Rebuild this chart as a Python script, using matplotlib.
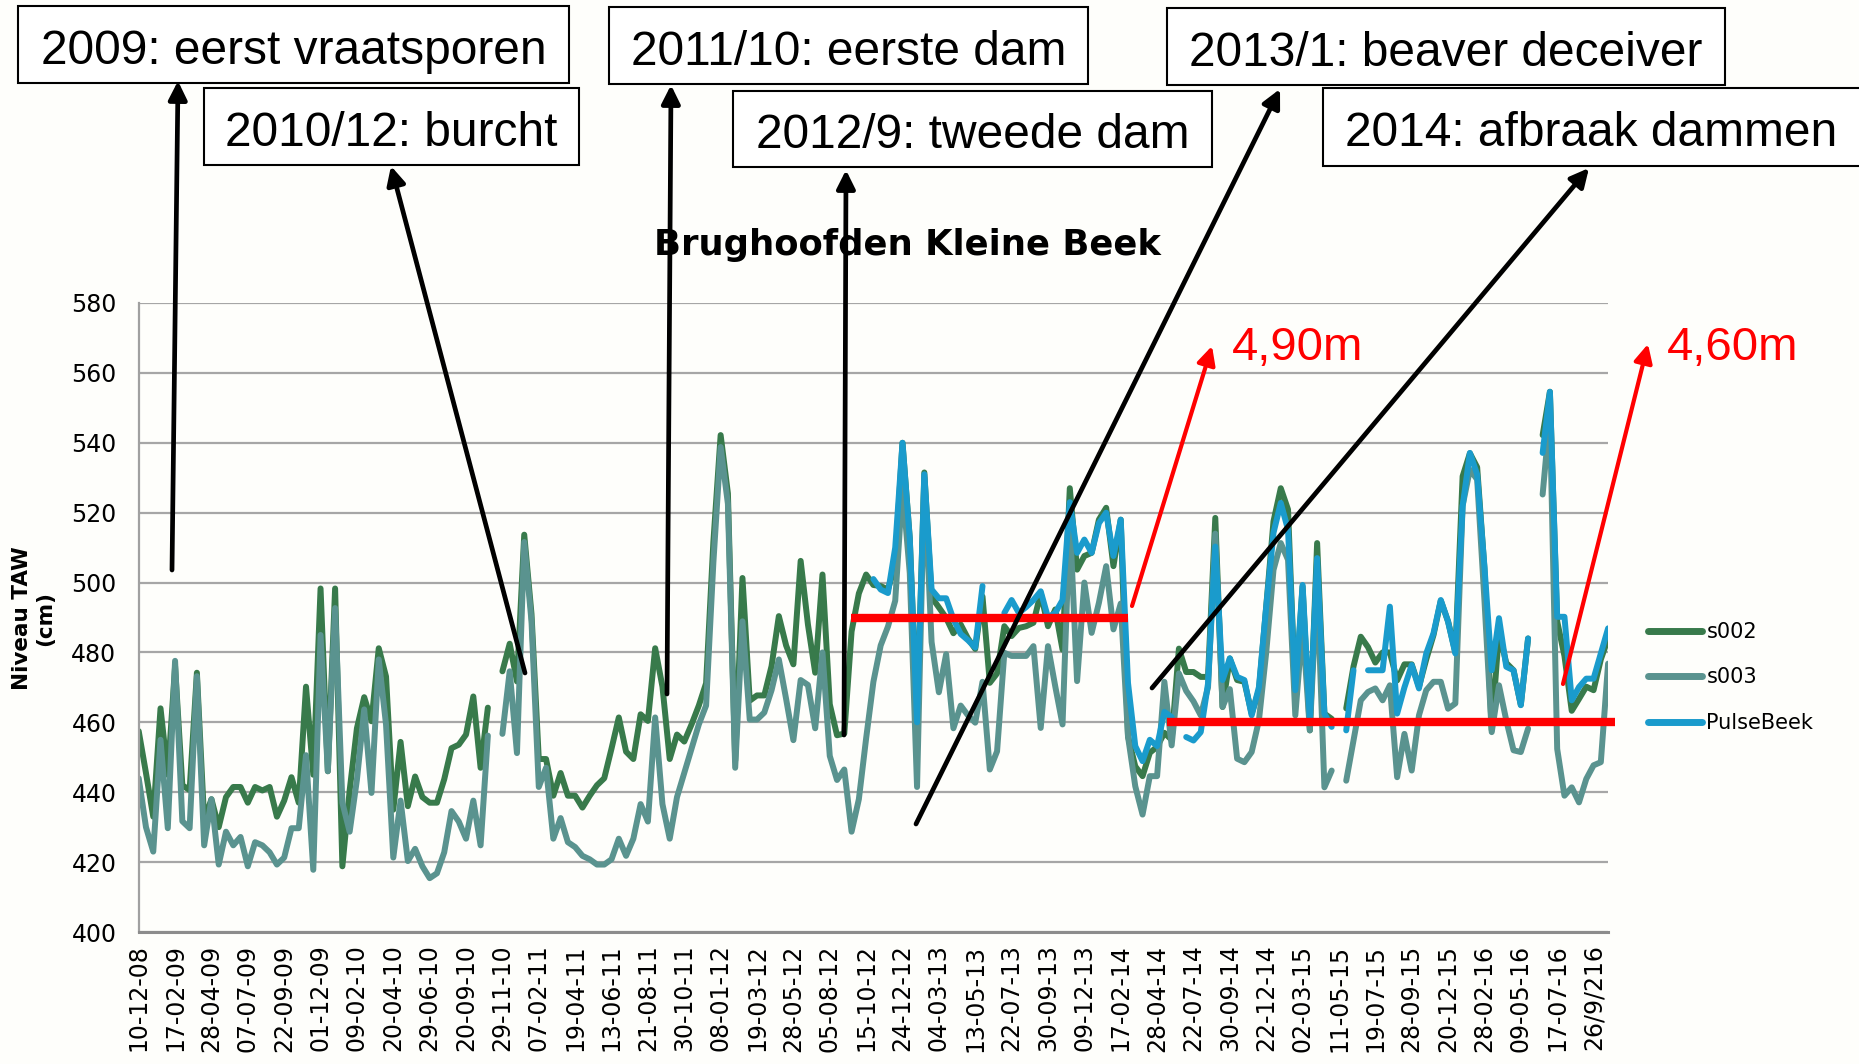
import numpy as np
import matplotlib
matplotlib.use('Agg')
import matplotlib.pyplot as plt
from matplotlib.patches import Rectangle, FancyArrowPatch

nan = np.nan

# meetreeksen (cm TAW), ongeveer tweewekelijks
s002 = [457.5, 445.5, 433, 464, 445, 476, 442, 440.6, 474.2, 432,
        438, 430, 438.6, 441.5, 441.5, 437, 441.5, 440.5, 441.5, 433,
        437.6, 444.3, 437, 470.2, 445, 498.3, 446, 498.3, 418.8, 440.5,
        458.3, 467.2, 460.3, 481.2, 473.1, 435, 454.4, 436, 444.5, 438.6,
        437, 437, 443.7, 452.6, 453.6, 456.5, 467.4, 447, 464.2, nan,
        474.6, 482.5, 471.7, 513.7, 491, 449.5, 449.5, 439, 445.5, 439,
        439, 435.6, 439, 442, 444, 452.5, 461.4, 451.6, 449.5, 462.3,
        460.4, 481.2, 470.2, 449.5, 456.5, 454.5, 459.4, 464.8, 471.2, 511.6,
        542.2, 525.5, 449, 501.3, 466.2, 467.7, 467.7, 476.1, 490.4, 482,
        476.6, 506.2, 488, 474.2, 502.3, 465.2, 456.3, 456.8, 486, 496.9,
        502.3, 499.3, 499, 498, 505, 540, 512.7, 460.4, 531.5, 495.8,
        492.9, 489.9, 485.5, 488, 484, 481, 496, 471.3, 474, 487.5,
        484.7, 487, 487.5, 488.5, 497, 487.5, 492.3, 480.8, 527, 503.7,
        507.6, 508.5, 518, 521.4, 504.7, 518, 456, 447.4, 444.6, 451.3,
        453, 457, 455, 481.1, 474.4, 474.4, 473, 473, 518.5, 464.4,
        478.3, 472.1, 471.6, 462.5, 469.2, 493.1, 517.5, 527, 520.9, 467.3,
        498.9, 457.7, 511.3, 462.5, 461, nan, 464, 476, 484.5, 481.5,
        477.1, 480, 480, 472, 476.6, 476.6, 470.2, 478, 485, 494.8,
        488.9, 480, 530.4, 537, 533, 504, 457.8, 486, 477, 474.9,
        465, 484, nan, 542.2, 554.6, 488.9, 479, 463.3, 466.7, 470.2,
        469.2, 478, 484]

s003 = [444, 430, 423, 455, 429.7, 477.6, 431.7, 429.7, 473.2, 424.8,
        438, 419.3, 428.7, 424.8, 427.2, 418.8, 425.7, 424.8, 422.8, 419.3,
        421.3, 429.7, 429.7, 450.6, 417.8, 485, 446, 492.7, 437, 428.7,
        443.6, 463.7, 439.8, 478, 459.4, 421.3, 437.6, 420.3, 423.8, 418.8,
        415.4, 416.8, 422.8, 434.6, 431.6, 426.7, 437.6, 424.8, 456.2, nan,
        456.7, 474.6, 451.2, 511.6, 488.9, 441.5, 447, 426.7, 432.6, 425.7,
        424.3, 421.8, 420.8, 419.3, 419.3, 420.8, 426.7, 421.8, 426.7, 436.6,
        431.6, 461.4, 436.6, 426.7, 438.6, 445.5, 452.5, 459.4, 464.8, 505.7,
        538.8, 522.5, 447, 488.9, 460.8, 460.8, 462.8, 469.2, 478, 466.7,
        454.9, 472.1, 470.7, 458.3, 480, 450.4, 443.5, 446.5, 428.7, 438,
        455.4, 471.6, 482, 487.4, 494.8, 527.5, 502.7, 441.5, 530, 483,
        468.6, 479.5, 458.3, 464.8, 462, 459.9, 471.6, 446.5, 451.7, 479.9,
        479, 479, 479, 481.8, 458.4, 481.8, 470.3, 459.4, 518, 471.8,
        500, 485.6, 494.2, 504.7, 486.6, 494, 456, 441.7, 433.6, 444.6,
        444.6, 471.6, 453.4, 474, 469, 466, 462, 470, 514, 464.4,
        469.5, 449.6, 448.6, 451.5, 460.6, 480, 503.6, 511.3, 506.5, 462,
        488, 457.7, 500, 441.4, 446.2, nan, 443.3, 454.8, 466.3, 468.7,
        469.7, 466.3, 470.6, 444.3, 456.7, 446.2, 462, 469.2, 471.6, 471.6,
        463.9, 465.4, 522, 532.3, 529.5, 495, 457.2, 470.6, 460.6, 452,
        451.5, 458.2, nan, 525.2, 548, 452.4, 439, 441.4, 437.1, 443.8,
        447.7, 448.6, 476.8]

pulsebeek = [nan] * 101 + [
        501, 498, 497, 510, 540, 512.5, 460, 531, 498, 495.5,
        495.5, 489.5, 485.3, 483.5, 481.4, 499, nan, nan, 491.3, 495,
        491.3, 493, 495, 497.5, 490, 491.3, 495, 523, 508.5, 512.3,
        508.5, 517, 520, 507.6, 518, 471.3, 453.2, 448.9, 455, 453.2,
        463, 461.5, nan, 455.8, 454.8, 457.2, 471.1, 510.3, 472.1, 478.3,
        473, 472.1, 462, 470.1, 493.1, 514.2, 522.8, 515.1, 469.2, 499.3,
        460.6, 507, 462.5, 458.7, nan, 457.7, 474.9, nan, 474.9, 474.9,
        474.9, 493.1, 462.5, 470, 476.4, 469.7, 479.7, 485.5, 495, 488.8,
        479.7, 521.8, 537.1, 530.9, 504.6, 474.9, 489.8, 475.9, 474.9, 464.9,
        484, nan, 537.1, 554.6, 490.2, 490.2, 466.3, 470.1, 472.5, 472.5,
        479.7, 486.9]

datum_labels = ['10-12-08', '17-02-09', '28-04-09', '07-07-09', '22-09-09',
                '01-12-09', '09-02-10', '20-04-10', '29-06-10', '20-09-10',
                '29-11-10', '07-02-11', '19-04-11', '13-06-11', '21-08-11',
                '30-10-11', '08-01-12', '19-03-12', '28-05-12', '05-08-12',
                '15-10-12', '24-12-12', '04-03-13', '13-05-13', '22-07-13',
                '30-09-13', '09-12-13', '17-02-14', '28-04-14', '22-07-14',
                '30-09-14', '22-12-14', '02-03-15', '11-05-15', '19-07-15',
                '28-09-15', '20-12-15', '28-02-16', '09-05-16', '17-07-16',
                '26/9/216']

W, H = 1859, 1064
BG = '#fefefb'


def fx(x):
    return x / W


def fy(y):
    return 1 - y / H


fig = plt.figure(figsize=(W / 100, H / 100), dpi=100, facecolor=BG)
ax = fig.add_axes([fx(138.7), fy(932), (1608.1 - 138.7) / W, (932 - 303) / H])
ax.set_facecolor(BG)

x = np.arange(len(s002))
kw = dict(lw=4.3, solid_joinstyle='round', solid_capstyle='round')
ax.plot(x, s002, color='#387a4b', label='s002', **kw)
ax.plot(x, s003, color='#5a938f', label='s003', **kw)
ax.plot(x, pulsebeek, color='#1a9bcc', label='PulseBeek', **kw)

# peilen 4,90m en 4,60m
ax.hlines(490, 97.9, 136.0, color='red', lw=6, zorder=5, clip_on=False)
ax.hlines(460, 141.4, 203.0, color='red', lw=6, zorder=5, clip_on=False)

ax.set_xlim(0, 202)
ax.set_ylim(400, 580)
ax.set_yticks(np.arange(400, 581, 20))
ax.set_xticks(np.arange(0, 201, 5))
ax.set_xticklabels(datum_labels, rotation=90, fontsize=17)
ax.tick_params(axis='y', labelsize=17, length=0, pad=16)
ax.tick_params(axis='x', length=0, pad=9)
ax.grid(axis='y', color='#a6a6a6', lw=1.6)
ax.set_axisbelow(True)
for s in ['top', 'right']:
    ax.spines[s].set_visible(False)
ax.spines['left'].set_color('#a0a0a0')
ax.spines['left'].set_linewidth(1.6)
ax.spines['bottom'].set_color('#8c8c8c')
ax.spines['bottom'].set_linewidth(2.2)

leg = ax.legend(loc='upper left', bbox_to_anchor=(fx(1648), fy(622)),
                bbox_transform=fig.transFigure, frameon=False, fontsize=15,
                handlelength=2.6, handletextpad=0.2, labelspacing=1.22,
                borderpad=0, borderaxespad=0)
for ln in leg.get_lines():
    ln.set_linewidth(5)

fig.text(fx(34), fy(618), 'Niveau TAW\n(cm)', rotation=90, ha='center',
         va='center', fontsize=15.5, fontweight='bold', multialignment='center')
fig.text(fx(907), fy(245), 'Brughoofden Kleine Beek', ha='center',
         va='center', fontsize=25.5, fontweight='bold')

# tekstvakken met gebeurtenissen
vakken = [
    ('2009: eerst vraatsporen', 18, 6, 569, 83),
    ('2010/12: burcht', 204, 88, 579, 165),
    ('2011/10: eerste dam', 609, 7, 1088, 84),
    ('2012/9: tweede dam', 733, 91, 1212, 167),
    ('2013/1: beaver deceiver', 1167, 8, 1725, 85),
    ('2014: afbraak dammen', 1323, 88, 1875, 166),
]
for txt, x0, y0, x1, y1 in vakken:
    fig.add_artist(Rectangle((fx(x0), fy(y1)), (x1 - x0) / W, (y1 - y0) / H,
                             transform=fig.transFigure, facecolor='white',
                             edgecolor='black', lw=1.5, zorder=3))
    cx = (x0 + x1) / 2 if x1 <= W else 1591
    fig.text(fx(cx), fy((y0 + y1) / 2 + 7), txt, ha='center', va='center',
             fontsize=34.5, family='Liberation Sans', zorder=4)

pijlen = [
    ((172, 570), (178, 81)),
    ((525, 673), (391, 166)),
    ((667, 694), (671, 85)),
    ((844, 735), (846, 170)),
    ((916, 824), (1280, 89)),
    ((1152, 688), (1589, 168)),
]
for (xa, ya), (xb, yb) in pijlen:
    fig.add_artist(FancyArrowPatch((fx(xa), fy(ya)), (fx(xb), fy(yb)),
                                   transform=fig.transFigure,
                                   arrowstyle='-|>,head_length=0.5,head_width=0.25',
                                   mutation_scale=22, lw=3.4, color='black',
                                   shrinkA=0, shrinkB=0, zorder=6))

for (xa, ya), (xb, yb) in [((1132, 606), (1212, 346)), ((1563, 684), (1648, 344))]:
    fig.add_artist(FancyArrowPatch((fx(xa), fy(ya)), (fx(xb), fy(yb)),
                                   transform=fig.transFigure,
                                   arrowstyle='-|>,head_length=0.5,head_width=0.25',
                                   mutation_scale=22, lw=3, color='red',
                                   shrinkA=0, shrinkB=0, zorder=6))
fig.text(fx(1298), fy(348), '4,90m', color='red', ha='center', va='center',
         fontsize=34, family='Liberation Sans')
fig.text(fx(1733), fy(348), '4,60m', color='red', ha='center', va='center',
         fontsize=34, family='Liberation Sans')

fig.savefig('out.png', dpi=100, facecolor=BG)
